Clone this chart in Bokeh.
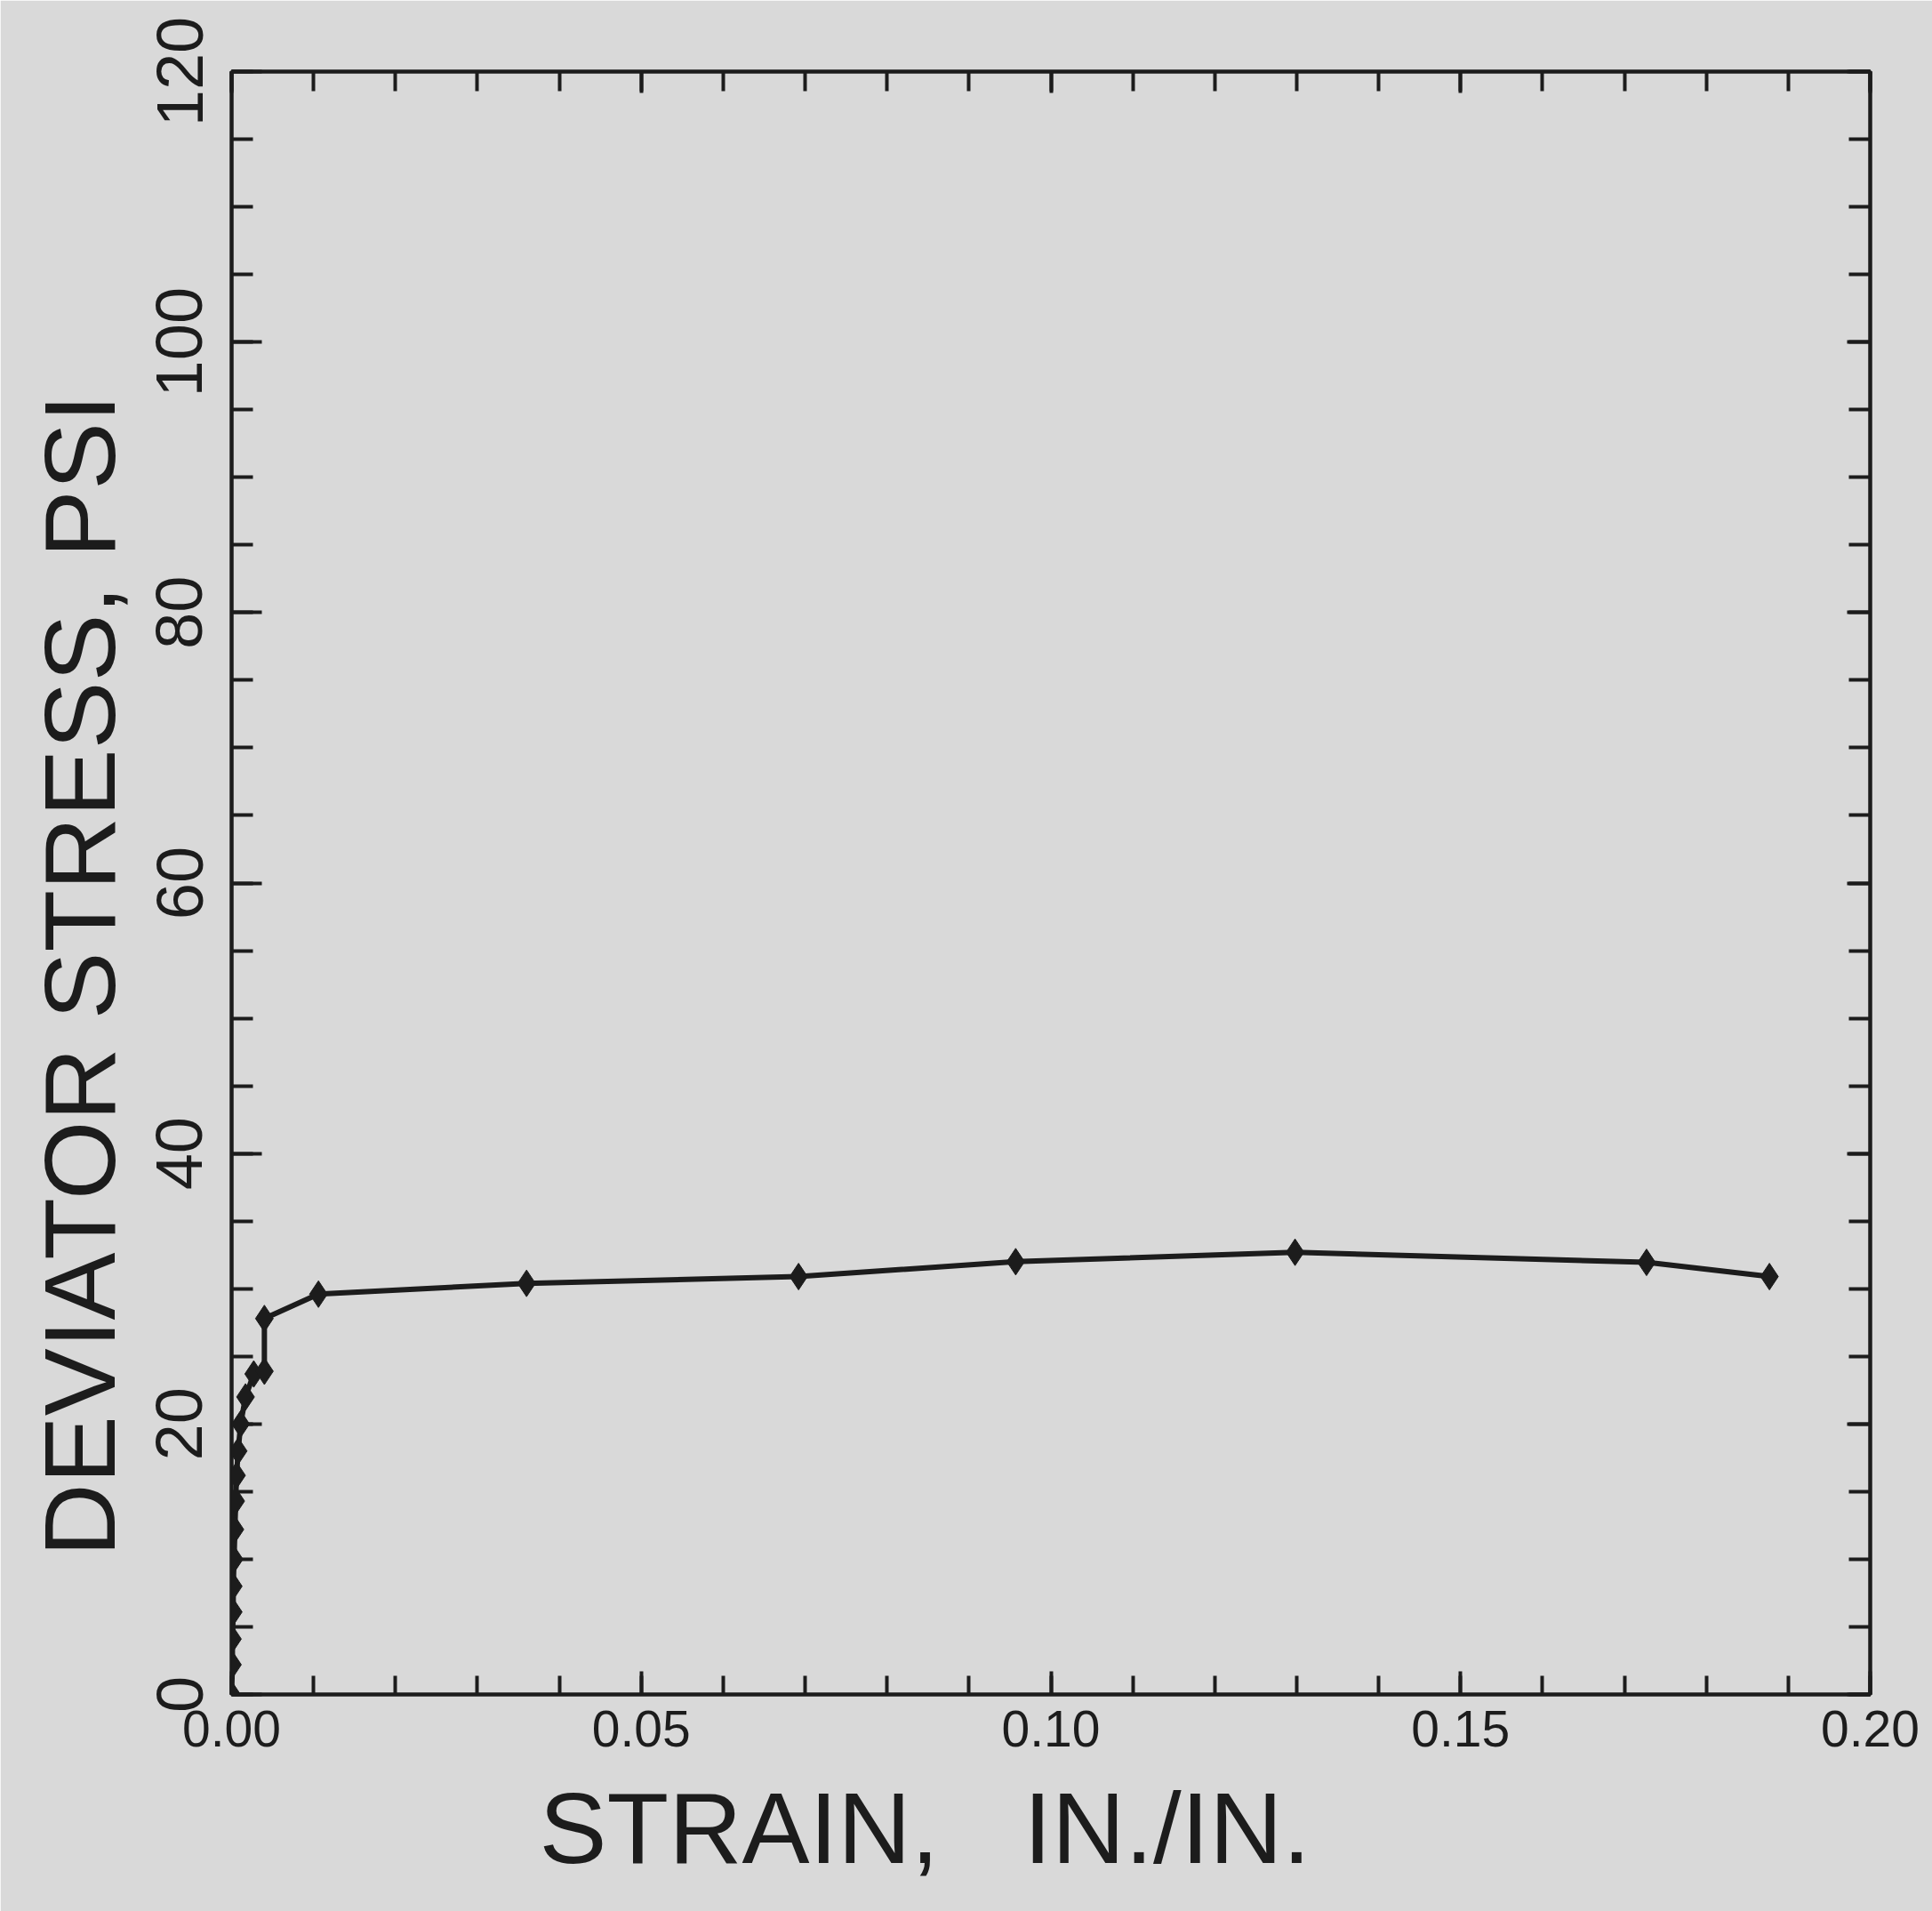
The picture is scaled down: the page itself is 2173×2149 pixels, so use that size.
from bokeh.plotting import figure
from bokeh.models import FixedTicker, LinearAxis, Title, CustomJSTickFormatter, Range1d
from bokeh.embed import file_html
from bokeh.resources import INLINE

# ---- data ----
strain = [0.0000, 0.0001, 0.0001, 0.0002, 0.0002, 0.0003, 0.0004, 0.0005, 0.0006,
          0.0008, 0.0011, 0.0017, 0.0027, 0.0040, 0.0040, 0.0106, 0.0360, 0.0692,
          0.0957, 0.1298, 0.1727, 0.1877]
stress = [0.0, 2.2, 4.1, 6.1, 8.0, 10.0, 12.2, 14.3, 16.2,
          18.0, 20.0, 22.0, 23.7, 23.9, 27.8, 29.6, 30.4, 30.9,
          32.0, 32.7, 31.95, 30.9]

x_ticks = [0.0, 0.05, 0.10, 0.15, 0.20]
x_tick_labels = ["0.00", "0.05", "0.10", "0.15", "0.20"]
y_ticks = [0, 20, 40, 60, 80, 100, 120]
y_tick_labels = ["0", "20", "40", "60", "80", "100", "120"]
x_minor = [round(0.01 * i, 2) for i in range(0, 21)]
y_minor = list(range(0, 121, 5))

x_title = "STRAIN,\u00a0\u00a0\u00a0IN./IN."
y_title = "DEVIATOR STRESS, PSI"

BG = "#d9d9d9"
INK = "#1c1c1c"
FONT = "Liberation Sans"

p = figure(width=2173, height=2149, output_backend="svg", toolbar_location=None,
           x_range=Range1d(0, 0.2), y_range=Range1d(0, 120),
           min_border_left=260, min_border_right=70, min_border_top=80, min_border_bottom=244)
p.background_fill_color = BG
p.border_fill_color = BG
p.outline_line_color = INK
p.outline_line_width = 4
p.grid.visible = False

def style_axis(ax, ticks, minor, labels=None, font_size="60px", font=FONT,
               maj=34, mnr=24):
    ax.ticker = FixedTicker(ticks=ticks, minor_ticks=minor)
    ax.axis_line_color = INK
    ax.axis_line_width = 4
    ax.major_tick_line_color = INK
    ax.minor_tick_line_color = INK
    ax.major_tick_line_width = 4
    ax.minor_tick_line_width = 4
    ax.major_tick_out = 0
    ax.minor_tick_out = 0
    ax.major_tick_in = maj
    ax.minor_tick_in = mnr
    ax.major_label_text_font = font
    ax.major_label_text_color = INK
    ax.major_label_text_font_size = font_size
    if labels is not None:
        ax.major_label_overrides = {t: l for t, l in zip(ticks, labels)}

# bottom x axis
xa = p.xaxis[0]
style_axis(xa, x_ticks, x_minor, x_tick_labels, "57px", FONT, maj=26, mnr=21)
xa.major_label_standoff = 18

# left y axis
ya = p.yaxis[0]
style_axis(ya, y_ticks, y_minor, y_tick_labels, "74px", FONT, maj=34, mnr=24)
ya.major_label_orientation = "vertical"
ya.major_label_standoff = 33

blank = CustomJSTickFormatter(code="return ''")
# right and top frame axes with inward ticks, no labels
ra = LinearAxis(formatter=blank)
style_axis(ra, y_ticks, y_minor, None, "8px", FONT, maj=26, mnr=24)
ra.major_label_standoff = 0
p.add_layout(ra, "right")
ta = LinearAxis(formatter=blank)
style_axis(ta, x_ticks, x_minor, None, "8px", FONT, maj=24, mnr=22)
ta.major_label_standoff = 0
p.add_layout(ta, "above")

# axis titles (placed off-centre as in the reference)
ty = Title(text=y_title, align="left", offset=155, text_font=FONT,
           text_font_size="114px", text_font_style="normal", text_color=INK, standoff=42)
p.add_layout(ty, "left")
tx = Title(text=x_title, align="left", offset=346, text_font=FONT,
           text_font_size="114px", text_font_style="normal", text_color=INK, standoff=46)
p.add_layout(tx, "below")

# data
p.line(strain, stress, line_width=6, color=INK)
p.scatter(strain, stress, marker="diamond", size=30, color=INK)

open("out.html", "w").write(file_html(p, INLINE))
